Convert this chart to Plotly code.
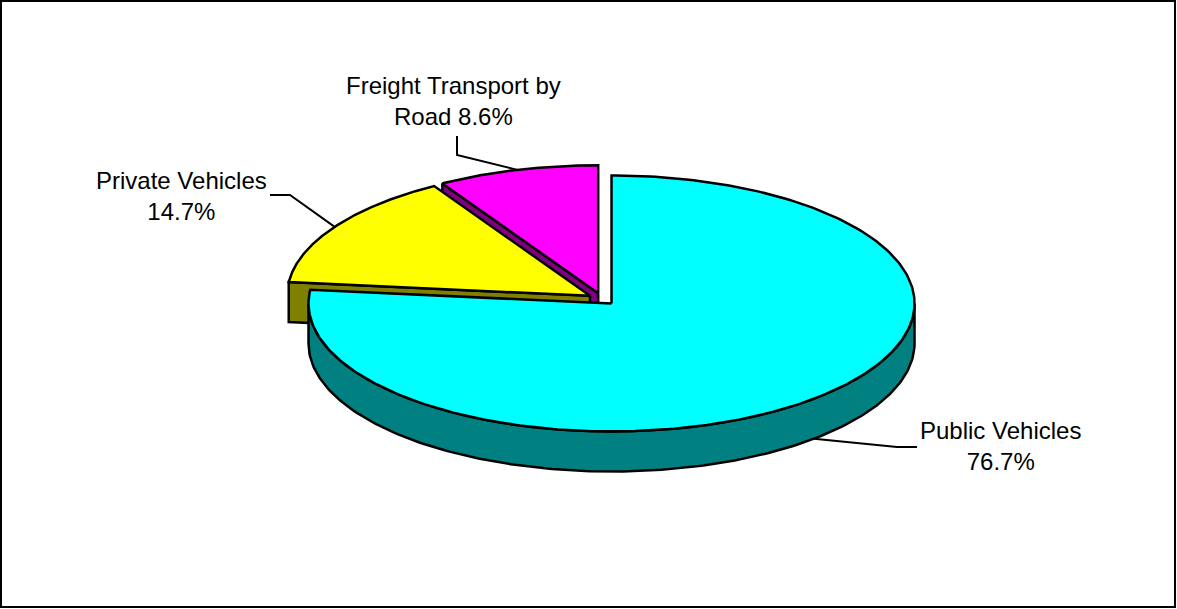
import textwrap
import numpy as np
import plotly.graph_objects as go

# ---- data ----
categories = ["Public Vehicles", "Private Vehicles", "Freight Transport by Road"]
shares = [76.7, 14.7, 8.6]
top_colors = ["#00FFFF", "#FFFF00", "#FF00FF"]
side_colors = ["#008080", "#808000", "#800080"]

# ---- styling / geometry (pixel space) ----
W, H = 1177, 609
CX, CY = 602.0, 299.0
RX, RY = 303.0, 128.0
DEPTH = 40.0
EXPLODE = 0.047
FONT = dict(family="Liberation Sans, Arial, sans-serif", size=24, color="black")
label_pos = [(1000, 446), (181, 196), (453, 101)]
label_elbow = [((897, 447), (917, 447)), ((290, 195), (270, 195)), ((457, 155), (457, 136))]

total = float(sum(shares))
starts, ends = [], []
acc = 0.0
for v in shares:
    starts.append(360.0 * acc / total)
    acc += v
    ends.append(360.0 * acc / total)


def pt(theta_deg, ox, oy, z=0.0):
    t = np.radians(theta_deg)
    return CX + ox + RX * np.sin(t), CY + oy - RY * np.cos(t) + z


def poly(fig, xs, ys, fill):
    fig.add_trace(go.Scatter(
        x=list(xs) + [xs[0]], y=list(ys) + [ys[0]], mode="lines", fill="toself",
        fillcolor=fill, line=dict(color="black", width=2.5), hoverinfo="skip",
        showlegend=False))


fig = go.Figure()

mids = [(s + e) / 2 for s, e in zip(starts, ends)]
offsets = []
for m in mids:
    t = np.radians(m)
    offsets.append((EXPLODE * RX * np.sin(t), -EXPLODE * RY * np.cos(t)))

# back-to-front order: by depth of slice midpoint (larger cos = further back)
order = sorted(range(len(shares)), key=lambda i: -np.cos(np.radians(mids[i])))

for i in order:
    s, e = starts[i], ends[i]
    ox, oy = offsets[i]
    ax, ay = CX + ox, CY + oy
    # cut faces
    if 180 < (s % 360) < 360:
        x1, y1 = pt(s, ox, oy)
        poly(fig, [ax, x1, x1, ax], [ay, y1, y1 + DEPTH, ay + DEPTH], side_colors[i])
    if 0 < (e % 360) < 180:
        x1, y1 = pt(e, ox, oy)
        poly(fig, [ax, x1, x1, ax], [ay, y1, y1 + DEPTH, ay + DEPTH], side_colors[i])
    # outer wall (front half only)
    a0, a1 = max(s, 90.0), min(e, 270.0)
    if a1 > a0:
        th = np.linspace(a0, a1, 200)
        xt, yt = pt(th, ox, oy)
        xs = np.concatenate([xt, xt[::-1]])
        ys = np.concatenate([yt, (yt + DEPTH)[::-1]])
        poly(fig, xs, ys, side_colors[i])
    # top face
    th = np.linspace(s, e, 300)
    xt, yt = pt(th, ox, oy)
    poly(fig, np.concatenate([[ax], xt]), np.concatenate([[ay], yt]), top_colors[i])

# labels and leader lines
for i in range(len(shares)):
    ox, oy = offsets[i]
    m = mids[i]
    z = DEPTH if np.cos(np.radians(m)) < 0 else 0.0
    rx_, ry_ = pt(m, ox, oy, z)
    (ex, ey), (lx, ly) = label_elbow[i]
    fig.add_trace(go.Scatter(x=[rx_, ex, lx], y=[ry_, ey, ly], mode="lines",
                             line=dict(color="black", width=2), hoverinfo="skip",
                             showlegend=False))
    text = "<br>".join(textwrap.wrap(f"{categories[i]} {shares[i]}%", 20))
    fig.add_annotation(x=label_pos[i][0], y=label_pos[i][1], xref="x", yref="y",
                       text=text, showarrow=False, font=FONT,
                       xanchor="center", yanchor="middle", align="center")

# chart frame
fig.add_shape(type="rect", xref="x", yref="y", x0=1, y0=1, x1=W - 2, y1=H - 2,
              line=dict(color="black", width=2), fillcolor="rgba(0,0,0,0)")

fig.update_layout(
    width=W, height=H, margin=dict(l=0, r=0, t=0, b=0),
    paper_bgcolor="white", plot_bgcolor="white",
    xaxis=dict(range=[0, W], visible=False, fixedrange=True),
    yaxis=dict(range=[H, 0], visible=False, fixedrange=True),
    showlegend=False,
)

fig.write_html("out.html", config={"displayModeBar": False},
               post_script="document.body.style.margin='0';")
